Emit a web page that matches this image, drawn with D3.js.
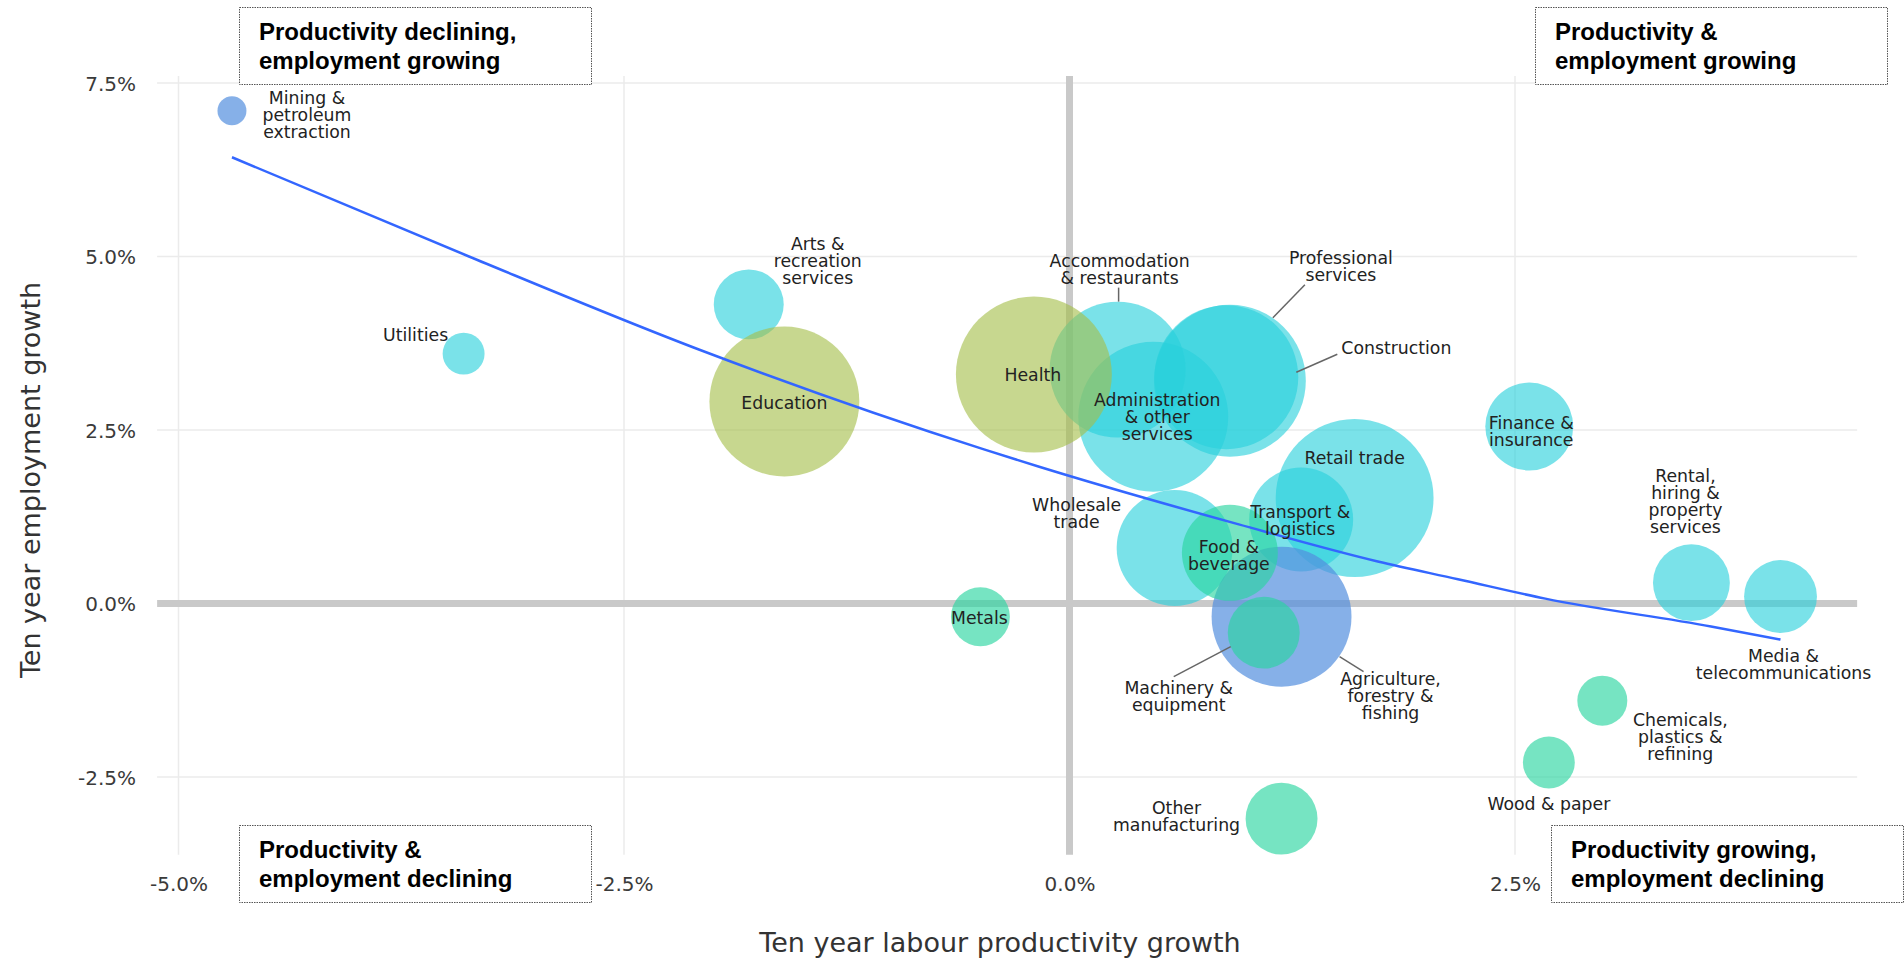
<!DOCTYPE html>
<html>
<head>
<meta charset="utf-8">
<script src="https://cdn.jsdelivr.net/npm/d3@7"></script>
<style>
  html, body { margin: 0; padding: 0; background: #ffffff; }
  svg { display: block; }
</style>
</head>
<body>
<svg id="chart" width="1904" height="958"></svg>
<script>
// ---------------- DATA ----------------
const sectors = [
  "Professional services", "Construction", "Administration & other services",
  "Accommodation & restaurants", "Retail trade", "Wholesale trade",
  "Transport & logistics", "Finance & insurance", "Rental, hiring & property services",
  "Media & telecommunications", "Arts & recreation services", "Utilities",
  "Education", "Health", "Agriculture, forestry & fishing",
  "Food & beverage", "Machinery & equipment", "Metals", "Other manufacturing",
  "Chemicals, plastics & refining", "Wood & paper", "Mining & petroleum extraction"
];
// Ten year labour productivity growth (%)
const productivity = [0.90, 0.88, 0.47, 0.27, 1.60, 0.59, 1.30, 2.58, 3.49, 3.99, -1.80, -3.40,
  -1.60, -0.20, 1.19, 0.90, 1.09, -0.50, 1.19, 2.99, 2.69, -4.70];
// Ten year employment growth (%)
const employment = [3.21, 3.26, 2.69, 3.37, 1.52, 0.80, 1.21, 2.55, 0.30, 0.10, 4.31, 3.60,
  2.91, 3.30, -0.19, 0.73, -0.42, -0.19, -3.10, -1.40, -2.29, 7.10];
// Bubble size (relative employment)
const sizes = [1155, 1037, 1125, 925, 1248, 673, 541, 387, 296, 266, 245, 88,
  1125, 1217, 980, 461, 259, 174, 259, 125, 135, 42];
// Sector group (drives colour)
const groups = ["services", "services", "services", "services", "services", "services",
  "services", "services", "services", "services", "services", "services",
  "public", "public", "primary", "manufacturing", "manufacturing", "manufacturing",
  "manufacturing", "manufacturing", "manufacturing", "primary"];

// Fitted trend line
const trendX = [-4.70, -3.37, -2.08, -0.48, -0.17, 0.95, 1.73, 2.18, 2.67, 3.60, 3.99];
const trendY = [6.43, 5.00, 3.66, 2.22, 1.97, 1.14, 0.605, 0.35, 0.07, -0.33, -0.52];

// Axis ticks
const xTicks = [-5.0, -2.5, 0.0, 2.5];
const yTicks = [-2.5, 0.0, 2.5, 5.0, 7.5];

// Quadrant notes
const quadrantNotes = [
  ["Productivity declining,", "employment growing"],
  ["Productivity &", "employment growing"],
  ["Productivity &", "employment declining"],
  ["Productivity growing,", "employment declining"]
];

// ---------------- LAYOUT (labels) ----------------
const labelLines = {
  "Mining & petroleum extraction": ["Mining &", "petroleum", "extraction"],
  "Utilities": ["Utilities"],
  "Arts & recreation services": ["Arts &", "recreation", "services"],
  "Education": ["Education"],
  "Health": ["Health"],
  "Accommodation & restaurants": ["Accommodation", "& restaurants"],
  "Administration & other services": ["Administration", "& other", "services"],
  "Professional services": ["Professional", "services"],
  "Construction": ["Construction"],
  "Finance & insurance": ["Finance &", "insurance"],
  "Retail trade": ["Retail trade"],
  "Transport & logistics": ["Transport &", "logistics"],
  "Wholesale trade": ["Wholesale", "trade"],
  "Food & beverage": ["Food &", "beverage"],
  "Agriculture, forestry & fishing": ["Agriculture,", "forestry &", "fishing"],
  "Machinery & equipment": ["Machinery &", "equipment"],
  "Metals": ["Metals"],
  "Other manufacturing": ["Other", "manufacturing"],
  "Rental, hiring & property services": ["Rental,", "hiring &", "property", "services"],
  "Media & telecommunications": ["Media &", "telecommunications"],
  "Chemicals, plastics & refining": ["Chemicals,", "plastics &", "refining"],
  "Wood & paper": ["Wood & paper"]
};
// [dx, dy, anchor] relative to the bubble centre (px); dy = first baseline
const labelOffset = {
  "Mining & petroleum extraction": [75, -7, "middle"],
  "Utilities": [-48, -13, "middle"],
  "Arts & recreation services": [69, -54, "middle"],
  "Education": [0, 7, "middle"],
  "Health": [-1, 7, "middle"],
  "Accommodation & restaurants": [2, -103, "middle"],
  "Administration & other services": [4, -11, "middle"],
  "Professional services": [111, -117, "middle"],
  "Construction": [115, -23, "start"],
  "Finance & insurance": [2, 2, "middle"],
  "Retail trade": [0, -34, "middle"],
  "Transport & logistics": [-1, -2, "middle"],
  "Wholesale trade": [-98, -37, "middle"],
  "Food & beverage": [-1, 0, "middle"],
  "Agriculture, forestry & fishing": [109, 68, "middle"],
  "Machinery & equipment": [-85, 61, "middle"],
  "Metals": [-1, 7, "middle"],
  "Other manufacturing": [-105, -5, "middle"],
  "Rental, hiring & property services": [-6, -101, "middle"],
  "Media & telecommunications": [3, 65, "middle"],
  "Chemicals, plastics & refining": [78, 25, "middle"],
  "Wood & paper": [0, 48, "middle"]
};
// leader lines [x1, y1, x2, y2] relative to bubble centre (px)
const leaders = {
  "Accommodation & restaurants": [1, -82, 1, -68],
  "Professional services": [75, -96, 43, -63],
  "Construction": [111, -23, 70, -5],
  "Machinery & equipment": [-90, 44, -33, 14],
  "Agriculture, forestry & fishing": [58, 40, 82, 55]
};

const colors = {
  services: "rgb(40,208,220)",
  public: "rgb(165,190,75)",
  primary: "rgb(82,142,222)",
  manufacturing: "rgb(40,212,160)"
};
const opacity = { services: 0.62, public: 0.62, primary: 0.7, manufacturing: 0.64 };

// ---------------- CHART ----------------
const svg = d3.select("#chart");
const x = d3.scaleLinear().domain([-5, 2.5]).range([178.5, 1515]);
const y = d3.scaleLinear().domain([-2.5, 7.5]).range([777, 83]);
const r = d3.scaleSqrt().domain([0, 1250]).range([0, 79]);

const xMin = -5.12, xMax = 4.42, yMin = -3.62, yMax = 7.6;

const labelFont = "DejaVu Sans, sans-serif";

// gridlines
const grid = svg.append("g");
grid.selectAll("line.h").data(yTicks.filter(d => d !== 0)).join("line")
  .attr("x1", x(xMin)).attr("x2", x(xMax))
  .attr("y1", d => y(d)).attr("y2", d => y(d))
  .attr("stroke", "#ebebeb").attr("stroke-width", 1.5);
grid.selectAll("line.v").data(xTicks.filter(d => d !== 0)).join("line")
  .attr("y1", y(yMax)).attr("y2", y(yMin))
  .attr("x1", d => x(d)).attr("x2", d => x(d))
  .attr("stroke", "#ebebeb").attr("stroke-width", 1.5);

// zero lines
svg.append("line").attr("x1", x(xMin)).attr("x2", x(xMax))
  .attr("y1", y(0)).attr("y2", y(0))
  .attr("stroke", "#c9c9c9").attr("stroke-width", 7);
svg.append("line").attr("x1", x(0)).attr("x2", x(0))
  .attr("y1", y(yMax)).attr("y2", y(yMin))
  .attr("stroke", "#c9c9c9").attr("stroke-width", 7);

// axes (tick labels only)
const fmt = d => d.toFixed(1) + "%";
const xAxis = d3.axisBottom(x).tickValues(xTicks).tickFormat(fmt).tickSize(0).tickPadding(0);
const gx = svg.append("g").attr("transform", "translate(0,884)").call(xAxis);
gx.select(".domain").remove();
gx.selectAll("text").attr("font-family", labelFont).attr("font-size", 20)
  .attr("fill", "#3a3a3a").attr("dy", "0.35em");

const yAxis = d3.axisLeft(y).tickValues(yTicks).tickFormat(fmt).tickSize(0).tickPadding(0);
const gy = svg.append("g").attr("transform", "translate(136,0)").call(yAxis);
gy.select(".domain").remove();
gy.selectAll("text").attr("font-family", labelFont).attr("font-size", 20)
  .attr("fill", "#3a3a3a").attr("dy", "0.35em");

// axis titles
svg.append("text").attr("x", 1000).attr("y", 952)
  .attr("text-anchor", "middle").attr("font-family", labelFont)
  .attr("font-size", 27).attr("fill", "#333")
  .text("Ten year labour productivity growth");
svg.append("text")
  .attr("transform", "translate(40,480) rotate(-90)")
  .attr("text-anchor", "middle").attr("font-family", labelFont)
  .attr("font-size", 27).attr("fill", "#333")
  .text("Ten year employment growth");

// data rows
const rows = sectors.map((s, i) => ({
  name: s, px: productivity[i], em: employment[i], size: sizes[i], group: groups[i]
}));

// bubbles
svg.append("g").selectAll("circle").data(rows).join("circle")
  .attr("cx", d => x(d.px)).attr("cy", d => y(d.em)).attr("r", d => r(d.size))
  .attr("fill", d => colors[d.group]).attr("fill-opacity", d => opacity[d.group]);

// trend line
const trend = trendX.map((v, i) => [v, trendY[i]]);
svg.append("path").datum(trend)
  .attr("d", d3.line().x(d => x(d[0])).y(d => y(d[1])).curve(d3.curveMonotoneX))
  .attr("fill", "none").attr("stroke", "#3366FF").attr("stroke-width", 2.5);

// leader lines
const leaderRows = rows.filter(d => leaders[d.name]);
svg.append("g").selectAll("line").data(leaderRows).join("line")
  .attr("x1", d => x(d.px) + leaders[d.name][0]).attr("y1", d => y(d.em) + leaders[d.name][1])
  .attr("x2", d => x(d.px) + leaders[d.name][2]).attr("y2", d => y(d.em) + leaders[d.name][3])
  .attr("stroke", "#666").attr("stroke-width", 1.5);

// labels
const lg = svg.append("g").attr("font-family", labelFont).attr("font-size", 17.3).attr("fill", "#222");
rows.forEach(d => {
  const off = labelOffset[d.name];
  const t = lg.append("text")
    .attr("x", x(d.px) + off[0]).attr("y", y(d.em) + off[1])
    .attr("text-anchor", off[2]);
  labelLines[d.name].forEach((line, i) => {
    t.append("tspan").attr("x", x(d.px) + off[0]).attr("dy", i === 0 ? 0 : 17).text(line);
  });
});

// quadrant boxes
const boxes = [
  { x: 239, y: 7 }, { x: 1535, y: 7 }, { x: 239, y: 825 }, { x: 1551, y: 825 }
];
const bw = 352, bh = 77;
boxes.forEach((b, i) => {
  svg.append("rect").attr("x", b.x + 0.5).attr("y", b.y + 0.5).attr("width", bw).attr("height", bh)
    .attr("fill", "#fff").attr("stroke", "#555").attr("stroke-width", 1)
    .attr("stroke-dasharray", "1.5,1");
  const t = svg.append("text").attr("font-family", "Liberation Sans, Arial, sans-serif")
    .attr("font-weight", "bold").attr("font-size", 24).attr("fill", "#000");
  quadrantNotes[i].forEach((line, j) => {
    t.append("tspan").attr("x", b.x + 20).attr("y", b.y + 33 + j * 28.5).text(line);
  });
});
</script>
</body>
</html>
